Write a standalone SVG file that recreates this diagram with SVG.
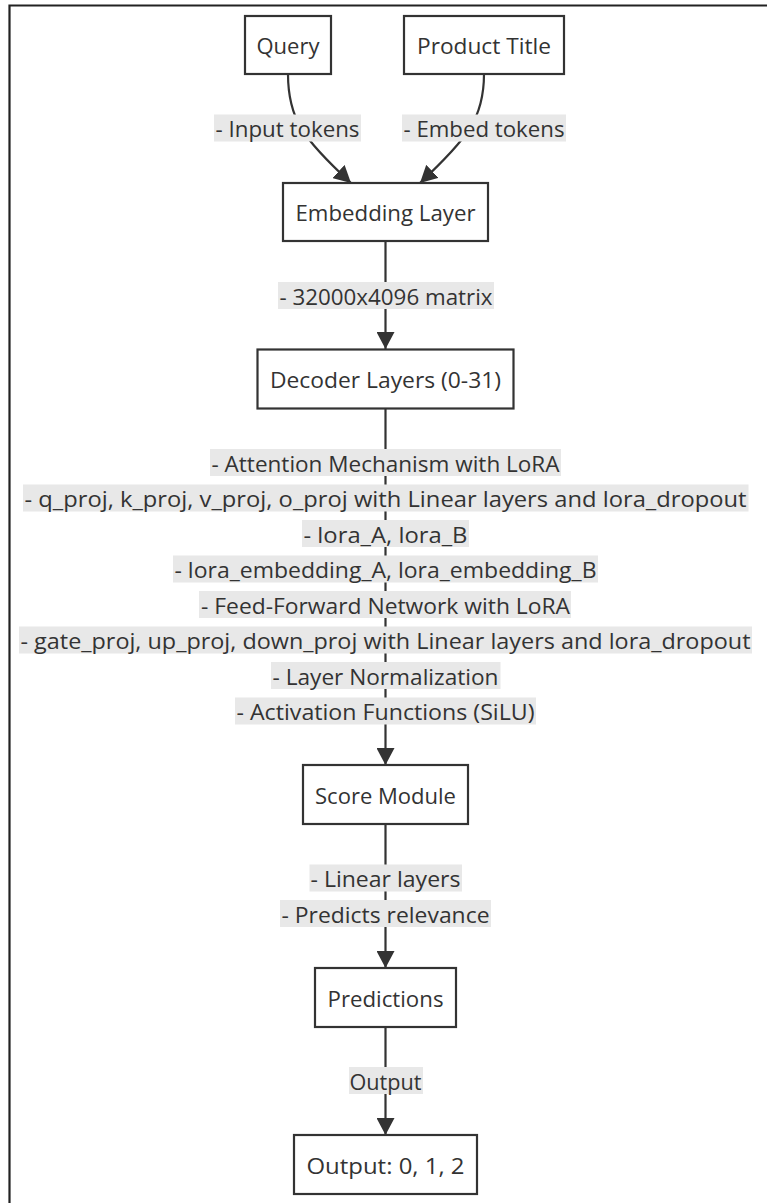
<svg xmlns="http://www.w3.org/2000/svg" width="767" height="1203" viewBox="0 0 767 1203">
<defs>
<style>
.node rect{fill:#ffffff;stroke:#333333;stroke-width:2.2}
.node text,.lbl text{font-family:"Trebuchet MS","Open Sans","Noto Sans",sans-serif;font-size:22px;fill:#333333;text-anchor:middle;dominant-baseline:central}
.edge{fill:none;stroke:#333333;stroke-width:2.2}
.lbl rect{fill:#e8e8e8}
</style>
<marker id="arr" viewBox="0 0 17 18" refX="17" refY="9" markerWidth="17" markerHeight="18" markerUnits="userSpaceOnUse" orient="auto">
<path d="M0,0 L17,9 L0,18 z" fill="#333333"/>
</marker>
</defs>
<rect width="767" height="1203" fill="#ffffff"/>
<path d="M9.5,1203 L9.5,5.5 L767,5.5" fill="none" stroke="#222222" stroke-width="2.2"/>

<g id="connectors">
<path class="edge" d="M288,74 C288,118 302,138 351,183" marker-end="url(#arr)"/>
<path class="edge" d="M484,74 C484,118 468,138 420,183" marker-end="url(#arr)"/>
<path class="edge" d="M385.5,241 L385.5,349" marker-end="url(#arr)"/>
<path class="edge" d="M385.5,408.5 L385.5,765" marker-end="url(#arr)"/>
<path class="edge" d="M385.5,824 L385.5,968" marker-end="url(#arr)"/>
<path class="edge" d="M385.5,1027 L385.5,1135" marker-end="url(#arr)"/>
<g class="lbl">
<rect x="214" y="114.5" width="147" height="27"/><text x="287.5" y="128" textLength="144" lengthAdjust="spacingAndGlyphs">- Input tokens</text>
<rect x="402" y="114.5" width="164" height="27"/><text x="484" y="128" textLength="161" lengthAdjust="spacingAndGlyphs">- Embed tokens</text>
<rect x="278" y="282" width="216" height="27"/><text x="386" y="295.5" textLength="213" lengthAdjust="spacingAndGlyphs">- 32000x4096 matrix</text>
<rect x="210" y="449" width="351" height="27"/><text x="385.5" y="462.5" textLength="348" lengthAdjust="spacingAndGlyphs">- Attention Mechanism with LoRA</text>
<rect x="23" y="484.5" width="725.5" height="27"/><text x="385.5" y="498" textLength="722" lengthAdjust="spacingAndGlyphs">- q_proj, k_proj, v_proj, o_proj with Linear layers and lora_dropout</text>
<rect x="302" y="520" width="167" height="27"/><text x="385.5" y="533.5" textLength="164" lengthAdjust="spacingAndGlyphs">- lora_A, lora_B</text>
<rect x="173" y="555.5" width="425" height="27"/><text x="385.5" y="569" textLength="422" lengthAdjust="spacingAndGlyphs">- lora_embedding_A, lora_embedding_B</text>
<rect x="199" y="591" width="372" height="27"/><text x="385.5" y="604.5" textLength="369" lengthAdjust="spacingAndGlyphs">- Feed-Forward Network with LoRA</text>
<rect x="19" y="626.5" width="733" height="27"/><text x="385.5" y="640" textLength="730" lengthAdjust="spacingAndGlyphs">- gate_proj, up_proj, down_proj with Linear layers and lora_dropout</text>
<rect x="271" y="662" width="229.5" height="27"/><text x="385.5" y="675.5" textLength="226" lengthAdjust="spacingAndGlyphs">- Layer Normalization</text>
<rect x="235" y="697.5" width="301" height="27"/><text x="385.5" y="711" textLength="298" lengthAdjust="spacingAndGlyphs">- Activation Functions (SiLU)</text>
<rect x="309.5" y="864.5" width="152.5" height="27"/><text x="385.5" y="878" textLength="150" lengthAdjust="spacingAndGlyphs">- Linear layers</text>
<rect x="280" y="900" width="211" height="27"/><text x="385.5" y="913.5" textLength="208" lengthAdjust="spacingAndGlyphs">- Predicts relevance</text>
<rect x="349" y="1067" width="74" height="27"/><text x="385.5" y="1080.5" textLength="72" lengthAdjust="spacingAndGlyphs">Output</text>
</g>
</g>

<g id="query" class="node"><rect x="245" y="16" width="86" height="58"/><text x="288" y="45" textLength="63" lengthAdjust="spacingAndGlyphs">Query</text></g>
<g id="product-title" class="node"><rect x="404" y="16" width="160" height="58"/><text x="484" y="45" textLength="134" lengthAdjust="spacingAndGlyphs">Product Title</text></g>
<g id="embedding-layer" class="node"><rect x="283" y="183" width="205" height="58"/><text x="385.5" y="212" textLength="180" lengthAdjust="spacingAndGlyphs">Embedding Layer</text></g>
<g id="decoder-layers" class="node"><rect x="257.5" y="349.5" width="256" height="59"/><text x="385.5" y="379" textLength="231" lengthAdjust="spacingAndGlyphs">Decoder Layers (0-31)</text></g>
<g id="score-module" class="node"><rect x="303" y="765" width="165" height="59"/><text x="385.5" y="794.5" textLength="141" lengthAdjust="spacingAndGlyphs">Score Module</text></g>
<g id="predictions" class="node"><rect x="315" y="968" width="141" height="59"/><text x="385.5" y="997.5" textLength="116" lengthAdjust="spacingAndGlyphs">Predictions</text></g>
<g id="output" class="node"><rect x="294" y="1135" width="183" height="59"/><text x="385.5" y="1164.5" textLength="158" lengthAdjust="spacingAndGlyphs">Output: 0, 1, 2</text></g>
</svg>
